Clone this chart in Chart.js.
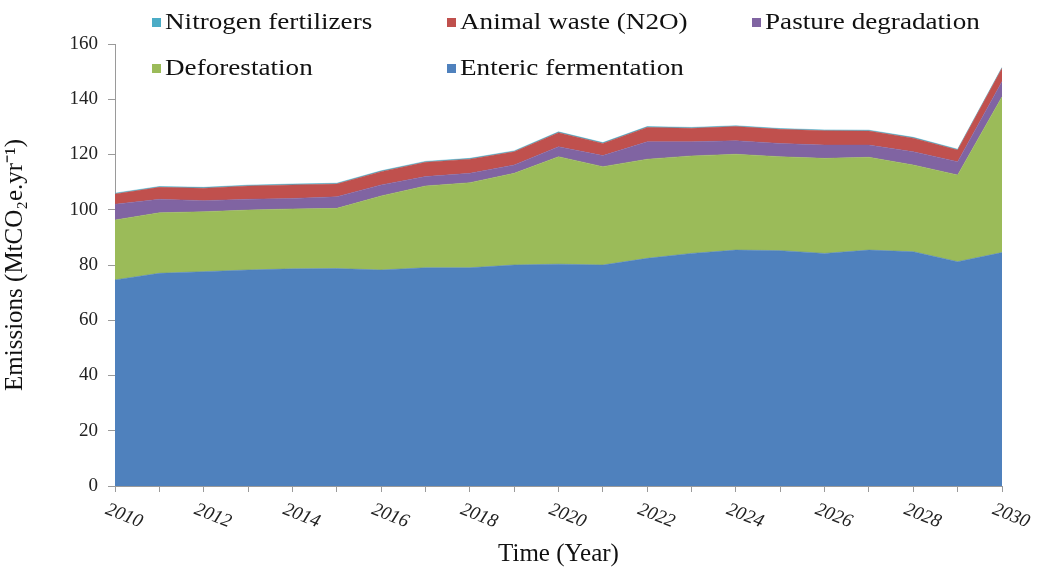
<!DOCTYPE html>
<html>
<head>
<meta charset="utf-8">
<script src="https://cdn.jsdelivr.net/npm/chart.js@4.4.1/dist/chart.umd.min.js"></script>
<style>
  html, body { margin: 0; padding: 0; background: #fff; }
  #wrap { position: relative; width: 1045px; height: 574px; }
  #legend { position: absolute; left: 0; top: 0; width: 1045px; height: 90px;
    font-family: "Liberation Serif", "Times New Roman", serif; font-size: 23px; color: #111; }
  .lg { position: absolute; display: flex; align-items: center; white-space: nowrap; line-height: 26px; }
  .sw { width: 9px; height: 9px; margin-right: 4px; }
  .tx { display: inline-block; transform: scaleX(1.18); transform-origin: left center; }
</style>
</head>
<body>
<div id="wrap">
  <canvas id="c" width="1045" height="574"></canvas>
  <div id="legend"></div>
</div>
<script>
const years = [2010,2011,2012,2013,2014,2015,2016,2017,2018,2019,2020,2021,2022,2023,2024,2025,2026,2027,2028,2029,2030];
const yTicks = [0,20,40,60,80,100,120,140,160];

const entericFermentation = [74.6,77,77.6,78.2,78.6,78.7,78.2,79,79,80,80.3,80,82.4,84.2,85.4,85.2,84.2,85.4,84.8,81.2,84.5];
const deforestation       = [21.7,21.9,21.7,21.7,21.7,21.8,26.8,29.6,30.8,33.2,38.9,35.6,35.9,35.3,34.7,34,34.4,33.6,31.4,31.4,56.4];
const pastureDegradation  = [5.7,4.9,4,3.9,3.8,4.2,4,3.4,3.4,3,3.6,4,6.3,5.1,4.9,4.8,4.8,4.4,4.8,4.8,5.5];
const animalWasteN2O      = [3.7,4.3,4.5,4.8,4.9,4.6,4.8,5.2,5.1,4.8,5.1,4.4,5.2,4.9,5.1,5.1,5.2,5.1,4.9,4.2,4.8];
const nitrogenFertilizers = [0.3,0.3,0.3,0.3,0.3,0.3,0.3,0.3,0.3,0.3,0.3,0.3,0.3,0.3,0.3,0.3,0.3,0.3,0.3,0.3,0.3];

const seriesNames = ["Enteric fermentation","Deforestation","Pasture degradation","Animal waste (N2O)","Nitrogen fertilizers"];
const seriesColors = ["#4F81BD","#9BBB59","#8064A2","#C0504D","#4BACC6"];
const seriesData = [entericFermentation, deforestation, pastureDegradation, animalWasteN2O, nitrogenFertilizers];

const datasets = seriesData.map((d, i) => ({
  label: seriesNames[i],
  data: d,
  backgroundColor: seriesColors[i],
  borderColor: seriesColors[i],
  borderWidth: 0.5,
  pointRadius: 0,
  tension: 0,
  fill: i === 0 ? 'origin' : '-1'
}));

const axisColor = "#9a9a9a";
const serif = "'Liberation Serif', 'Times New Roman', serif";

const rotatedXLabels = {
  id: 'rotatedXLabels',
  afterDraw(chart) {
    const ctx = chart.ctx;
    const xs = chart.scales.x;
    ctx.save();
    ctx.font = "italic 19px " + serif;
    ctx.fillStyle = "#222";
    ctx.textAlign = "left";
    ctx.textBaseline = "top";
    years.forEach((yr, i) => {
      if (yr % 2 !== 0) return;
      const px = xs.getPixelForValue(i);
      ctx.save();
      ctx.translate(px - 5, xs.top + 14);
      ctx.rotate(0.38);
      ctx.fillText(String(yr), 0, 0);
      ctx.restore();
    });
    ctx.restore();
  }
};

const chart = new Chart(document.getElementById('c'), {
  type: 'line',
  data: { labels: years.map(String), datasets },
  options: {
    responsive: false,
    animation: false,
    events: [],
    layout: { padding: { top: 44, right: 43, left: 0, bottom: 0 } },
    plugins: { legend: { display: false }, tooltip: { enabled: false } },
    scales: {
      x: {
        offset: false,
        grid: { display: true, drawOnChartArea: false, drawTicks: true, tickLength: 6, color: axisColor },
        border: { color: axisColor, width: 1 },
        ticks: { display: false, autoSkip: false },
        title: { display: true, text: "Time (Year)", color: "#111",
          font: { family: serif, size: 25 }, padding: { top: 0, bottom: 5 } },
        afterFit(s) { s.height = 88; }
      },
      y: {
        stacked: true,
        min: 0, max: 160,
        afterBuildTicks(s) { s.ticks = yTicks.map(v => ({ value: v })); },
        grid: { display: true, drawOnChartArea: false, drawTicks: true, tickLength: 7, color: axisColor },
        border: { color: axisColor, width: 1 },
        ticks: { color: "#222", font: { family: serif, size: 19 }, padding: 10 },
        title: { display: true, text: "Emissions (MtCO\u2082e.yr\u207B\u00B9)", color: "#111",
          font: { family: serif, size: 25 }, padding: { top: 0, bottom: 0 } },
        afterFit(s) { s.width = 115; }
      }
    }
  },
  plugins: [rotatedXLabels]
});

// HTML legend built from the datasets
const legendOrder = [4, 3, 2, 1, 0];
const legendPos = [[152, 22], [447, 22], [752, 22], [152, 68], [447, 68]];
const lg = document.getElementById('legend');
legendOrder.forEach((di, k) => {
  const ds = chart.data.datasets[di];
  const el = document.createElement('div');
  el.className = 'lg';
  el.style.left = legendPos[k][0] + 'px';
  el.style.top = (legendPos[k][1] - 13) + 'px';
  const sw = document.createElement('span');
  sw.className = 'sw';
  sw.style.background = ds.backgroundColor;
  const tx = document.createElement('span');
  tx.className = 'tx';
  tx.textContent = ds.label;
  el.appendChild(sw); el.appendChild(tx);
  lg.appendChild(el);
});
</script>
</body>
</html>
